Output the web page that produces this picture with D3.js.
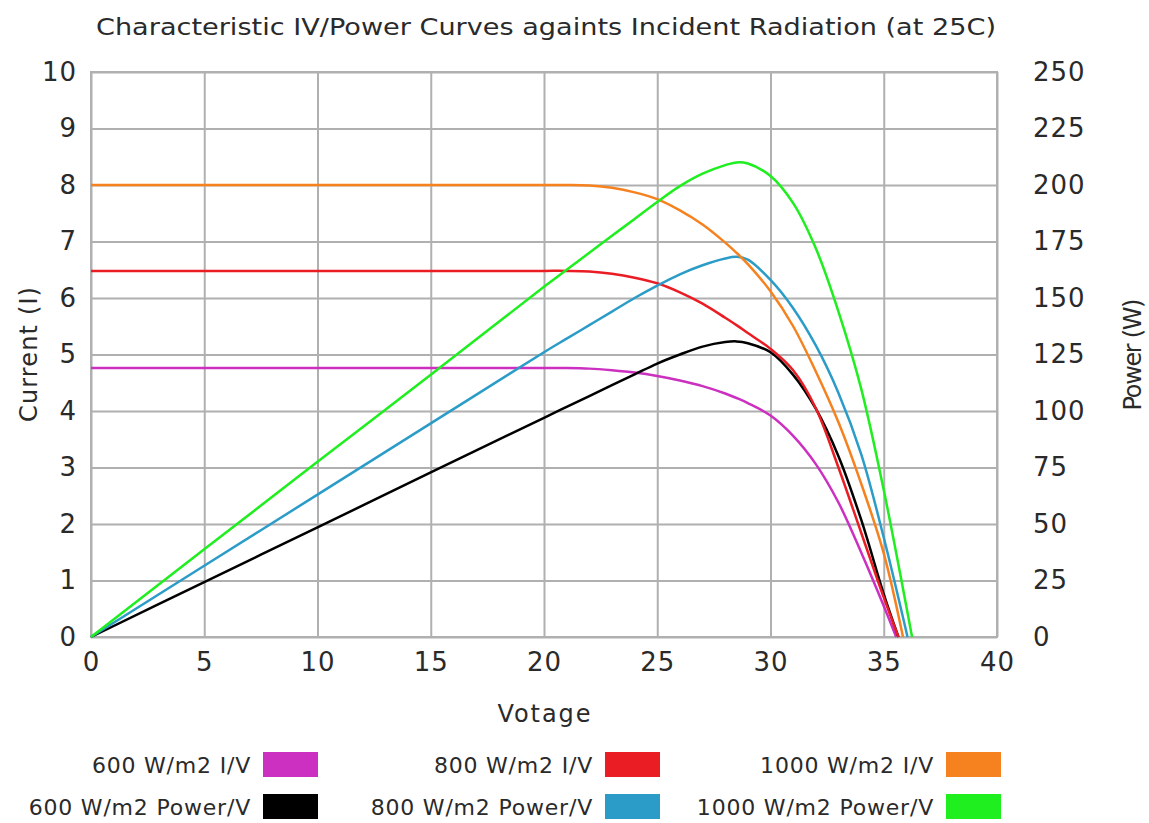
<!DOCTYPE html>
<html>
<head>
<meta charset="utf-8">
<title>Characteristic IV/Power Curves</title>
<script src="https://d3js.org/d3.v7.min.js"></script>
<style>
    body { margin: 0; background: #fff; }
    text { font-family: "DejaVu Sans", sans-serif; fill: #2a2a2a; }
</style>
</head>
<body>
<script>
    // voltage sample points shared by every series
    var volts = [0, 5, 10, 15, 20, 21, 22, 23, 24, 25, 26, 27, 28, 28.5, 29, 30, 31, 32, 33, 34, 35];

    // current (A) for each irradiance
    var iv600  = [4.76, 4.76, 4.76, 4.76, 4.76, 4.76, 4.75, 4.72, 4.68, 4.62, 4.54, 4.44, 4.31, 4.23, 4.14, 3.92, 3.56, 3.06, 2.38, 1.5, 0.55];
    var iv800  = [6.48, 6.48, 6.48, 6.48, 6.48, 6.48, 6.47, 6.43, 6.36, 6.26, 6.1, 5.9, 5.65, 5.52, 5.38, 5.1, 4.72, 4.05, 3.0, 1.85, 0.7];
    var iv1000 = [8.0, 8.0, 8.0, 8.0, 8.0, 8.0, 7.99, 7.95, 7.87, 7.75, 7.55, 7.3, 6.98, 6.8, 6.6, 6.12, 5.5, 4.7, 3.8, 2.72, 1.48];

    // power (W) for each irradiance
    var pw600  = [0, 24.3, 48.5, 72.8, 97, 101.8, 106.6, 111.4, 116.2, 121, 125, 128.5, 130.5, 130.8, 130, 126, 116, 101, 80, 52, 19];
    var pw800  = [0, 31.5, 63, 94.5, 126, 132, 138, 144, 150, 155.5, 160.5, 164.5, 167.5, 168.2, 167, 158, 145.5, 129, 108, 81, 44];
    var pw1000 = [0, 38.8, 77.5, 116, 155, 162.5, 170, 177.5, 185, 192.5, 199.5, 205, 208.8, 210, 209.5, 204, 192, 172, 144, 110, 65];

    // open circuit voltage where each curve reaches zero
    var voc = {iv600: 35.55, iv800: 35.65, iv1000: 35.85, pw600: 35.65, pw800: 36.05, pw1000: 36.25};

    var xTicks = [0, 5, 10, 15, 20, 25, 30, 35, 40];
    var currentTicks = [0, 1, 2, 3, 4, 5, 6, 7, 8, 9, 10];
    var powerTicks = [0, 25, 50, 75, 100, 125, 150, 175, 200, 225, 250];

    var series = [
        {key: "iv600",  label: "600 W/m2 I/V",      axis: "I", color: "#cc30c0", vals: iv600},
        {key: "pw600",  label: "600 W/m2 Power/V",  axis: "P", color: "#000000", vals: pw600},
        {key: "iv800",  label: "800 W/m2 I/V",      axis: "I", color: "#ea1c24", vals: iv800},
        {key: "pw800",  label: "800 W/m2 Power/V",  axis: "P", color: "#2b9cc8", vals: pw800},
        {key: "iv1000", label: "1000 W/m2 I/V",     axis: "I", color: "#f5821f", vals: iv1000},
        {key: "pw1000", label: "1000 W/m2 Power/V", axis: "P", color: "#1fee1f", vals: pw1000}
    ];

    var W = 1149, H = 823;
    var margin = {top: 72, right: 152, bottom: 186, left: 91};
    var width = W - margin.left - margin.right,
        height = H - margin.top - margin.bottom;

    var svg = d3.select("body").append("svg")
        .attr("width", W)
        .attr("height", H);

    var g = svg.append("g")
        .attr("transform", "translate(" + margin.left + "," + margin.top + ")");

    var x = d3.scaleLinear().domain([0, 40]).range([0, width]);
    var yI = d3.scaleLinear().domain([0, 10]).range([height, 0]);
    var yP = d3.scaleLinear().domain([0, 250]).range([height, 0]);

    // grid
    g.append("g")
        .attr("class", "grid")
        .call(d3.axisLeft(yI).tickValues(currentTicks).tickSize(-width).tickFormat(""))
        .call(s => s.select(".domain").remove());
    g.append("g")
        .attr("class", "grid")
        .attr("transform", "translate(0," + height + ")")
        .call(d3.axisBottom(x).tickValues(xTicks).tickSize(-height).tickFormat(""))
        .call(s => s.select(".domain").remove());
    g.selectAll(".grid line").attr("stroke", "#b0b0b0").attr("stroke-width", 2);

    g.append("rect")
        .attr("width", width)
        .attr("height", height)
        .attr("fill", "none")
        .attr("stroke", "#b0b0b0")
        .attr("stroke-width", 2);

    // axes text
    var axL = g.append("g")
        .call(d3.axisLeft(yI).tickValues(currentTicks).tickSize(0).tickPadding(14));
    var axR = g.append("g")
        .attr("transform", "translate(" + width + ",0)")
        .call(d3.axisRight(yP).tickValues(powerTicks).tickSize(0).tickPadding(36));
    var axB = g.append("g")
        .attr("transform", "translate(0," + height + ")")
        .call(d3.axisBottom(x).tickValues(xTicks).tickSize(0).tickPadding(16));
    [axL, axR, axB].forEach(function(a) {
        a.select(".domain").remove();
        a.selectAll("text")
            .style("font-family", "'DejaVu Sans', sans-serif")
            .style("font-size", "26px")
            .style("letter-spacing", "1px")
            .attr("fill", "#2a2a2a");
    });

    // curves
    var line = d3.line().curve(d3.curveCatmullRom.alpha(0.5));
    series.forEach(function(s) {
        var yScale = s.axis === "I" ? yI : yP;
        var pts = volts.map(function(v, i) { return [x(v), yScale(s.vals[i])]; });
        pts.push([x(voc[s.key]), yScale(0)]);
        g.append("path")
            .attr("d", line(pts))
            .attr("fill", "none")
            .attr("stroke", s.color)
            .attr("stroke-width", 2.5);
    });

    // titles
    svg.append("text")
        .attr("x", 546)
        .attr("y", 35)
        .attr("text-anchor", "middle")
        .attr("textLength", 900)
        .attr("lengthAdjust", "spacingAndGlyphs")
        .style("font-size", "23px")
        .text("Characteristic IV/Power Curves againts Incident Radiation (at 25C)");

    svg.append("text")
        .attr("x", margin.left + width / 2)
        .attr("y", 722)
        .attr("text-anchor", "middle")
        .attr("textLength", 93)
        .style("font-size", "24px")
        .text("Votage");

    svg.append("text")
        .attr("transform", "translate(37," + (margin.top + height / 2) + ") rotate(-90)")
        .attr("text-anchor", "middle")
        .attr("textLength", 135)
        .style("font-size", "24px")
        .text("Current (I)");

    svg.append("text")
        .attr("transform", "translate(1141," + (margin.top + height / 2) + ") rotate(-90)")
        .attr("text-anchor", "middle")
        .attr("textLength", 112)
        .style("font-size", "24px")
        .text("Power (W)");

    // legend: three columns, I/V on top row, Power/V below
    var legX = [263, 605, 946], legY = [752, 794];
    series.forEach(function(s, i) {
        var col = Math.floor(i / 2), row = i % 2;
        var lg = svg.append("g")
            .attr("transform", "translate(" + legX[col] + "," + legY[row] + ")");
        lg.append("rect")
            .attr("width", 55)
            .attr("height", 25)
            .attr("fill", s.color);
        lg.append("text")
            .attr("x", -12)
            .attr("y", 21)
            .attr("text-anchor", "end")
            .style("font-size", "22px")
            .style("letter-spacing", "0.8px")
            .text(s.label);
    });
</script>
</body>
</html>
